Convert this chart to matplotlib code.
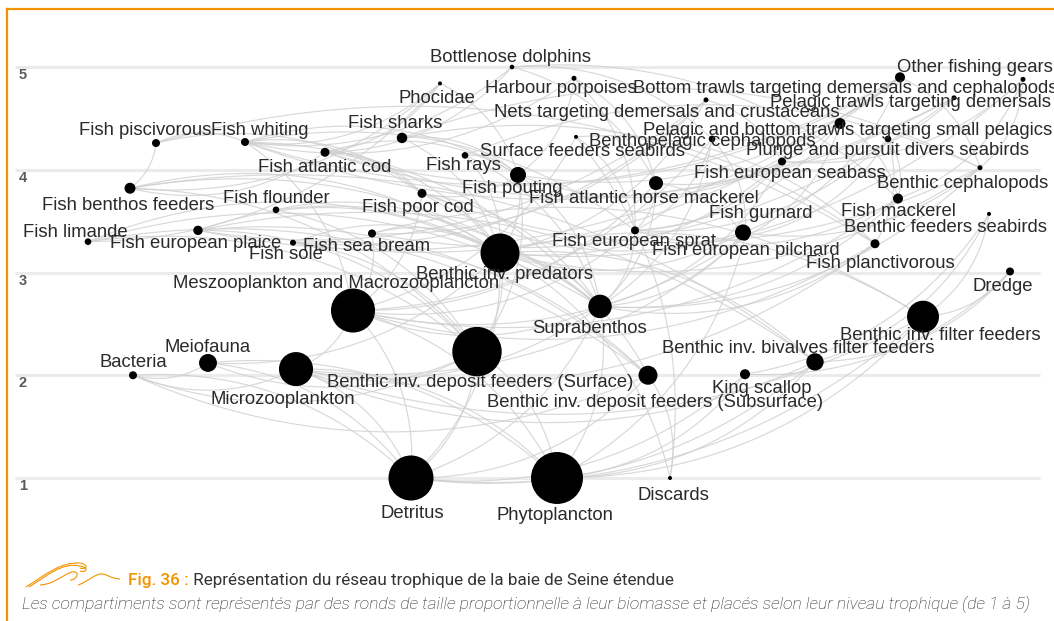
import numpy as np
import matplotlib
matplotlib.use("Agg")
import matplotlib.pyplot as plt
from matplotlib.path import Path
from matplotlib.patches import PathPatch

# ---------------- data ----------------
node_names = [
    "Bottlenose dolphins", "Harbour porpoises", "Phocidae", "Other fishing gears",
    "Bottom trawls targeting demersals and cephalopods", "Nets targeting demersals and crustaceans",
    "Pelagic trawls targeting demersals", "Pelagic and bottom trawls targeting small pelagics",
    "Benthopelagic cephalopods", "Plunge and pursuit divers seabirds", "Surface feeders seabirds",
    "Fish piscivorous", "Fish whiting", "Fish sharks", "Fish atlantic cod", "Fish rays",
    "Fish pouting", "Fish atlantic horse mackerel", "Fish european seabass", "Benthic cephalopods",
    "Fish benthos feeders", "Fish flounder", "Fish poor cod", "Fish gurnard", "Fish mackerel",
    "Benthic feeders seabirds", "Fish limande", "Fish european plaice", "Fish sole",
    "Fish sea bream", "Fish european sprat", "Fish european pilchard", "Fish planctivorous",
    "Benthic inv. predators", "Meszooplankton and Macrozooplancton", "Dredge", "Suprabenthos",
    "Benthic inv. filter feeders", "Meiofauna", "Bacteria", "Microzooplankton",
    "Benthic inv. deposit feeders (Surface)", "Benthic inv. bivalves filter feeders",
    "King scallop", "Benthic inv. deposit feeders (Subsurface)", "Detritus", "Phytoplancton",
    "Discards",
]
# horizontal layout coordinate of each compartment
node_x = [512, 574, 440, 1023, 900, 706, 954, 840, 712, 888, 576,
          156, 245, 402, 325, 465, 518, 656, 782, 980,
          130, 276, 422, 743, 898, 989, 88, 198, 293, 372, 635, 745, 875,
          500, 353, 1010, 600, 923, 208, 133, 296, 477, 815, 745, 648,
          411, 557, 670]
# trophic level (1 to 5)
trophic_level = [5.00, 4.89, 4.84, 4.88, 4.90, 4.68, 4.70, 4.45, 4.30, 4.30, 4.32,
                 4.26, 4.27, 4.31, 4.17, 4.14, 3.95, 3.87, 4.08, 4.02,
                 3.82, 3.61, 3.77, 3.39, 3.72, 3.57, 3.30, 3.41, 3.29, 3.38, 3.41, 3.35, 3.28,
                 3.19, 2.63, 3.01, 2.67, 2.57, 2.12, 2.00, 2.06, 2.23, 2.13, 2.01, 2.00,
                 1.00, 1.00, 1.00]
# biomass (relative units)
biomass = [0.21, 0.25, 0.16, 0.25, 1.0, 0.25, 0.25, 1.2, 0.44, 0.44, 0.16,
           0.64, 0.64, 1.1, 0.8, 0.44, 2.56, 1.96, 0.64, 0.25,
           1.2, 0.44, 0.8, 2.56, 1.0, 0.16, 0.44, 0.88, 0.36, 0.64, 0.64, 0.64, 0.81,
           15.2, 19.4, 0.64, 5.5, 10.2, 3.2, 0.64, 11.6, 24.4, 3.0, 1.0, 3.6,
           20.3, 27.0, 0.16]

# trophic links: (consumer, resource)
links = [
    ("Bacteria", "Detritus"),
    ("Meiofauna", "Bacteria"), ("Meiofauna", "Detritus"), ("Meiofauna", "Phytoplancton"),
    ("Microzooplankton", "Bacteria"), ("Microzooplankton", "Phytoplancton"), ("Microzooplankton", "Detritus"),
    ("Meszooplankton and Macrozooplancton", "Microzooplankton"),
    ("Meszooplankton and Macrozooplancton", "Phytoplancton"),
    ("Meszooplankton and Macrozooplancton", "Detritus"),
    ("Benthic inv. deposit feeders (Surface)", "Detritus"),
    ("Benthic inv. deposit feeders (Surface)", "Bacteria"),
    ("Benthic inv. deposit feeders (Surface)", "Phytoplancton"),
    ("Benthic inv. deposit feeders (Surface)", "Meiofauna"),
    ("Benthic inv. deposit feeders (Subsurface)", "Detritus"),
    ("Benthic inv. deposit feeders (Subsurface)", "Bacteria"),
    ("Benthic inv. deposit feeders (Subsurface)", "Discards"),
    ("Benthic inv. filter feeders", "Phytoplancton"), ("Benthic inv. filter feeders", "Detritus"),
    ("Benthic inv. filter feeders", "Microzooplankton"),
    ("Benthic inv. bivalves filter feeders", "Phytoplancton"),
    ("Benthic inv. bivalves filter feeders", "Detritus"),
    ("Benthic inv. bivalves filter feeders", "Microzooplankton"),
    ("King scallop", "Phytoplancton"), ("King scallop", "Detritus"),
    ("Suprabenthos", "Phytoplancton"), ("Suprabenthos", "Detritus"),
    ("Suprabenthos", "Meszooplankton and Macrozooplancton"), ("Suprabenthos", "Microzooplankton"),
    ("Benthic inv. predators", "Benthic inv. deposit feeders (Surface)"),
    ("Benthic inv. predators", "Benthic inv. deposit feeders (Subsurface)"),
    ("Benthic inv. predators", "Benthic inv. filter feeders"),
    ("Benthic inv. predators", "Benthic inv. bivalves filter feeders"),
    ("Benthic inv. predators", "Meiofauna"), ("Benthic inv. predators", "Suprabenthos"),
    ("Benthic inv. predators", "Detritus"), ("Benthic inv. predators", "Discards"),
    ("Fish planctivorous", "Meszooplankton and Macrozooplancton"),
    ("Fish planctivorous", "Suprabenthos"), ("Fish planctivorous", "Microzooplankton"),
    ("Fish european sprat", "Meszooplankton and Macrozooplancton"), ("Fish european sprat", "Suprabenthos"),
    ("Fish european pilchard", "Meszooplankton and Macrozooplancton"),
    ("Fish european pilchard", "Phytoplancton"), ("Fish european pilchard", "Microzooplankton"),
    ("Fish mackerel", "Meszooplankton and Macrozooplancton"), ("Fish mackerel", "Suprabenthos"),
    ("Fish mackerel", "Fish european sprat"),
    ("Fish atlantic horse mackerel", "Meszooplankton and Macrozooplancton"),
    ("Fish atlantic horse mackerel", "Suprabenthos"), ("Fish atlantic horse mackerel", "Fish european sprat"),
    ("Fish atlantic horse mackerel", "Fish european pilchard"),
    ("Fish benthos feeders", "Benthic inv. predators"),
    ("Fish benthos feeders", "Benthic inv. deposit feeders (Surface)"),
    ("Fish benthos feeders", "Suprabenthos"), ("Fish benthos feeders", "Benthic inv. bivalves filter feeders"),
    ("Fish limande", "Benthic inv. predators"), ("Fish limande", "Benthic inv. deposit feeders (Surface)"),
    ("Fish limande", "Benthic inv. deposit feeders (Subsurface)"), ("Fish limande", "Suprabenthos"),
    ("Fish european plaice", "Benthic inv. predators"),
    ("Fish european plaice", "Benthic inv. deposit feeders (Surface)"),
    ("Fish european plaice", "Benthic inv. bivalves filter feeders"),
    ("Fish european plaice", "Benthic inv. deposit feeders (Subsurface)"),
    ("Fish sole", "Benthic inv. predators"), ("Fish sole", "Benthic inv. deposit feeders (Surface)"),
    ("Fish sole", "Benthic inv. deposit feeders (Subsurface)"),
    ("Fish flounder", "Benthic inv. predators"), ("Fish flounder", "Benthic inv. deposit feeders (Surface)"),
    ("Fish flounder", "Suprabenthos"),
    ("Fish sea bream", "Benthic inv. predators"), ("Fish sea bream", "Benthic inv. filter feeders"),
    ("Fish sea bream", "Meszooplankton and Macrozooplancton"),
    ("Fish gurnard", "Benthic inv. predators"), ("Fish gurnard", "Suprabenthos"), ("Fish gurnard", "Fish poor cod"),
    ("Fish poor cod", "Suprabenthos"), ("Fish poor cod", "Benthic inv. predators"),
    ("Fish poor cod", "Meszooplankton and Macrozooplancton"),
    ("Fish pouting", "Suprabenthos"), ("Fish pouting", "Benthic inv. predators"),
    ("Fish pouting", "Fish poor cod"), ("Fish pouting", "Benthic inv. deposit feeders (Surface)"),
    ("Fish european seabass", "Benthic inv. predators"), ("Fish european seabass", "Fish european sprat"),
    ("Fish european seabass", "Suprabenthos"), ("Fish european seabass", "Fish pouting"),
    ("Fish rays", "Benthic inv. predators"), ("Fish rays", "Fish pouting"),
    ("Fish rays", "Suprabenthos"), ("Fish rays", "Benthic cephalopods"),
    ("Fish atlantic cod", "Benthic inv. predators"), ("Fish atlantic cod", "Fish pouting"),
    ("Fish atlantic cod", "Fish poor cod"), ("Fish atlantic cod", "Fish benthos feeders"),
    ("Fish whiting", "Fish european sprat"), ("Fish whiting", "Fish poor cod"),
    ("Fish whiting", "Suprabenthos"), ("Fish whiting", "Meszooplankton and Macrozooplancton"),
    ("Fish whiting", "Fish pouting"),
    ("Fish piscivorous", "Fish benthos feeders"), ("Fish piscivorous", "Fish planctivorous"),
    ("Fish piscivorous", "Fish whiting"), ("Fish piscivorous", "Fish poor cod"),
    ("Fish sharks", "Fish planctivorous"), ("Fish sharks", "Benthic cephalopods"),
    ("Fish sharks", "Fish pouting"), ("Fish sharks", "Benthic inv. predators"),
    ("Benthic cephalopods", "Benthic inv. predators"), ("Benthic cephalopods", "Fish poor cod"),
    ("Benthic cephalopods", "Suprabenthos"), ("Benthic cephalopods", "Fish gurnard"),
    ("Benthopelagic cephalopods", "Fish european sprat"),
    ("Benthopelagic cephalopods", "Meszooplankton and Macrozooplancton"),
    ("Benthopelagic cephalopods", "Fish european pilchard"), ("Benthopelagic cephalopods", "Suprabenthos"),
    ("Surface feeders seabirds", "Fish european sprat"), ("Surface feeders seabirds", "Discards"),
    ("Surface feeders seabirds", "Fish planctivorous"),
    ("Surface feeders seabirds", "Meszooplankton and Macrozooplancton"),
    ("Plunge and pursuit divers seabirds", "Fish european sprat"),
    ("Plunge and pursuit divers seabirds", "Fish european pilchard"),
    ("Plunge and pursuit divers seabirds", "Fish planctivorous"),
    ("Plunge and pursuit divers seabirds", "Fish mackerel"),
    ("Benthic feeders seabirds", "Benthic inv. bivalves filter feeders"),
    ("Benthic feeders seabirds", "Benthic inv. filter feeders"), ("Benthic feeders seabirds", "King scallop"),
    ("Phocidae", "Fish benthos feeders"), ("Phocidae", "Fish pouting"), ("Phocidae", "Fish atlantic cod"),
    ("Phocidae", "Fish whiting"), ("Phocidae", "Fish limande"),
    ("Harbour porpoises", "Fish whiting"), ("Harbour porpoises", "Fish european sprat"),
    ("Harbour porpoises", "Fish pouting"), ("Harbour porpoises", "Fish atlantic horse mackerel"),
    ("Bottlenose dolphins", "Fish atlantic cod"), ("Bottlenose dolphins", "Fish mackerel"),
    ("Bottlenose dolphins", "Fish atlantic horse mackerel"),
    ("Bottlenose dolphins", "Benthopelagic cephalopods"), ("Bottlenose dolphins", "Fish whiting"),
    ("Bottom trawls targeting demersals and cephalopods", "Fish atlantic cod"),
    ("Bottom trawls targeting demersals and cephalopods", "Fish whiting"),
    ("Bottom trawls targeting demersals and cephalopods", "Benthopelagic cephalopods"),
    ("Bottom trawls targeting demersals and cephalopods", "Benthic cephalopods"),
    ("Bottom trawls targeting demersals and cephalopods", "Fish sole"),
    ("Bottom trawls targeting demersals and cephalopods", "Fish european plaice"),
    ("Bottom trawls targeting demersals and cephalopods", "Fish gurnard"),
    ("Bottom trawls targeting demersals and cephalopods", "Fish pouting"),
    ("Nets targeting demersals and crustaceans", "Fish sole"),
    ("Nets targeting demersals and crustaceans", "Fish european seabass"),
    ("Nets targeting demersals and crustaceans", "Benthic inv. predators"),
    ("Nets targeting demersals and crustaceans", "Fish european plaice"),
    ("Nets targeting demersals and crustaceans", "Fish sea bream"),
    ("Pelagic trawls targeting demersals", "Fish european seabass"),
    ("Pelagic trawls targeting demersals", "Fish atlantic cod"),
    ("Pelagic trawls targeting demersals", "Fish whiting"),
    ("Pelagic trawls targeting demersals", "Fish sea bream"),
    ("Pelagic and bottom trawls targeting small pelagics", "Fish european sprat"),
    ("Pelagic and bottom trawls targeting small pelagics", "Fish european pilchard"),
    ("Pelagic and bottom trawls targeting small pelagics", "Fish mackerel"),
    ("Pelagic and bottom trawls targeting small pelagics", "Fish atlantic horse mackerel"),
    ("Other fishing gears", "Fish european seabass"), ("Other fishing gears", "Benthic cephalopods"),
    ("Other fishing gears", "Fish mackerel"), ("Other fishing gears", "Benthic inv. predators"),
    ("Dredge", "King scallop"), ("Dredge", "Benthic inv. bivalves filter feeders"),
    ("Dredge", "Benthic inv. filter feeders"),
]

y_ticks = [1, 2, 3, 4, 5]

title_prefix = "Fig. 36 :"
title_text = " Représentation du réseau trophique de la baie de Seine étendue"
subtitle_text = ("Les compartiments sont représentés par des ronds de taille proportionnelle "
                 "à leur biomasse et placés selon leur niveau trophique (de 1 à 5)")

# ---------------- layout / style ----------------
# label offsets (pixels, +down) relative to each node
label_offsets = {
    "Bottlenose dolphins": (-2, -10), "Harbour porpoises": (-13, 10), "Phocidae": (-3, 15),
    "Other fishing gears": (-48, -12),
    "Bottom trawls targeting demersals and cephalopods": (-55, 11),
    "Nets targeting demersals and crustaceans": (-39, 13),
    "Pelagic trawls targeting demersals": (-44, 5),
    "Pelagic and bottom trawls targeting small pelagics": (8, 7),
    "Benthopelagic cephalopods": (-10, 3), "Plunge and pursuit divers seabirds": (0, 12),
    "Surface feeders seabirds": (6, 15), "Fish piscivorous": (-11, -13), "Fish whiting": (15, -12),
    "Fish sharks": (-7, -14), "Fish atlantic cod": (0, 15), "Fish rays": (-2, 10),
    "Fish pouting": (-6, 14), "Fish atlantic horse mackerel": (-12, 15),
    "Fish european seabass": (8, 12), "Benthic cephalopods": (-17, 16),
    "Fish benthos feeders": (-2, 17), "Fish flounder": (0, -11), "Fish poor cod": (-4, 14),
    "Fish gurnard": (18, -19), "Fish mackerel": (0, 13), "Benthic feeders seabirds": (-43, 14),
    "Fish limande": (-13, -9), "Fish european plaice": (-2, 13), "Fish sole": (-7, 12),
    "Fish sea bream": (-5, 13), "Fish european sprat": (-1, 11), "Fish european pilchard": (1, 14),
    "Fish planctivorous": (5, 20), "Benthic inv. predators": (5, 22),
    "Meszooplankton and Macrozooplancton": (-17, -27), "Dredge": (-7, 15),
    "Suprabenthos": (-10, 22), "Benthic inv. filter feeders": (17, 19), "Meiofauna": (0, -15),
    "Bacteria": (0, -13), "Microzooplankton": (-13, 30),
    "Benthic inv. deposit feeders (Surface)": (3, 31),
    "Benthic inv. bivalves filter feeders": (-17, -13), "King scallop": (17, 14),
    "Benthic inv. deposit feeders (Subsurface)": (7, 27), "Detritus": (1, 36),
    "Phytoplancton": (-2, 37), "Discards": (3, 17),
}

W, H = 1054, 621
DPI = 100
PX_PER_LEVEL = 102.75
LEVEL1_ROW = 478.0
PT = 72.0 / DPI

fig = plt.figure(figsize=(W / DPI, H / DPI), dpi=DPI)
fig.patch.set_facecolor("white")
ax = fig.add_axes([0, 0, 1, 1])
ax.set_xlim(0, W)
ax.set_ylim(1 - (H - LEVEL1_ROW) / PX_PER_LEVEL, 1 + LEVEL1_ROW / PX_PER_LEVEL)
ax.axis("off")

# gridlines
for lv in y_ticks:
    ax.plot([15, 1040], [lv, lv], color="#ebebeb", lw=2.2, zorder=0, solid_capstyle="butt")
    ax.annotate(str(lv), (23, lv), xytext=(0, -8 * PT), textcoords="offset points",
                ha="center", va="center", fontsize=10.5, fontweight="bold",
                color="#5a5a5a", family="Liberation Sans")

idx = {n: i for i, n in enumerate(node_names)}
xs = np.array(node_x, float)
ys = np.array(trophic_level, float)

# edges as curved arcs
t = np.linspace(0, 1, 40)
for a, b in links:
    i, j = idx[a], idx[b]
    p0 = np.array([xs[i], ys[i] * PX_PER_LEVEL])
    p2 = np.array([xs[j], ys[j] * PX_PER_LEVEL])
    d = p2 - p0
    perp = np.array([-d[1], d[0]])
    p1 = (p0 + p2) / 2 + 0.22 * perp
    curve = ((1 - t)[:, None] ** 2) * p0 + (2 * (1 - t) * t)[:, None] * p1 + (t[:, None] ** 2) * p2
    ax.plot(curve[:, 0], curve[:, 1] / PX_PER_LEVEL, color="#cfcfcf", lw=0.85,
            alpha=0.8, zorder=1)

# nodes
radius_px = np.maximum(5.0 * np.sqrt(np.array(biomass)), 1.8)
sizes = (2 * radius_px * PT) ** 2
ax.scatter(xs, ys, s=sizes, color="black", edgecolors="none", zorder=3)

# labels
for n, x, y in zip(node_names, xs, ys):
    dx, dy = label_offsets[n]
    ax.annotate(n, (x, y), xytext=(dx * PT, -dy * PT), textcoords="offset points",
                ha="center", va="center", fontsize=13.3, color="#2a2a2a",
                family="Liberation Sans", zorder=4)

# frame (orange)
orange = "#f39200"
fig.add_artist(plt.Line2D([7 / W, 1], [1 - 9 / H, 1 - 9 / H], color=orange, lw=1.6,
                          transform=fig.transFigure))
fig.add_artist(plt.Line2D([7 / W, 7 / W], [0, 1 - 9 / H], color=orange, lw=1.6,
                          transform=fig.transFigure))

# wave icon
def fig_path(pts, codes):
    pts = [(px / W, 1 - py / H) for px, py in pts]
    return PathPatch(Path(pts, codes), transform=fig.transFigure, fill=False,
                     edgecolor=orange, lw=0.8)

C3 = Path.CURVE4
M = Path.MOVETO
for off in (0, 3):
    fig.add_artist(fig_path(
        [(26 + off, 587), (45 + off, 575), (60 + off, 562), (80, 563 + off),
         (90, 565 + off), (86, 570 + off), (80, 568 + off)],
        [M, C3, C3, C3, C3, C3, C3]))
fig.add_artist(fig_path(
    [(40, 585), (55, 584), (62, 575), (72, 572), (80, 570), (78, 580), (70, 580)],
    [M, C3, C3, C3, C3, C3, C3]))
fig.add_artist(fig_path(
    [(78, 585), (88, 582), (95, 573), (103, 574), (108, 575), (110, 578), (120, 579)],
    [M, C3, C3, C3, C3, C3, C3]))

# caption
CAP_FS = 12.35
tp = fig.text(128 / W, 1 - 581 / H, title_prefix, ha="left", va="center", fontsize=CAP_FS,
              color=orange, family="Roboto", fontweight="medium")
fig.canvas.draw()
bb = tp.get_window_extent()
fig.text(bb.x1 / W, 1 - 581 / H, title_text, ha="left", va="center", fontsize=CAP_FS,
         color="#333333", family="Roboto", fontweight="normal")
fig.text(22 / W, 1 - 604 / H, subtitle_text, ha="left", va="center", fontsize=12.6,
         color="#222222", family="Roboto", style="italic", fontweight="light")

fig.savefig("out.png", dpi=DPI, facecolor="white")
